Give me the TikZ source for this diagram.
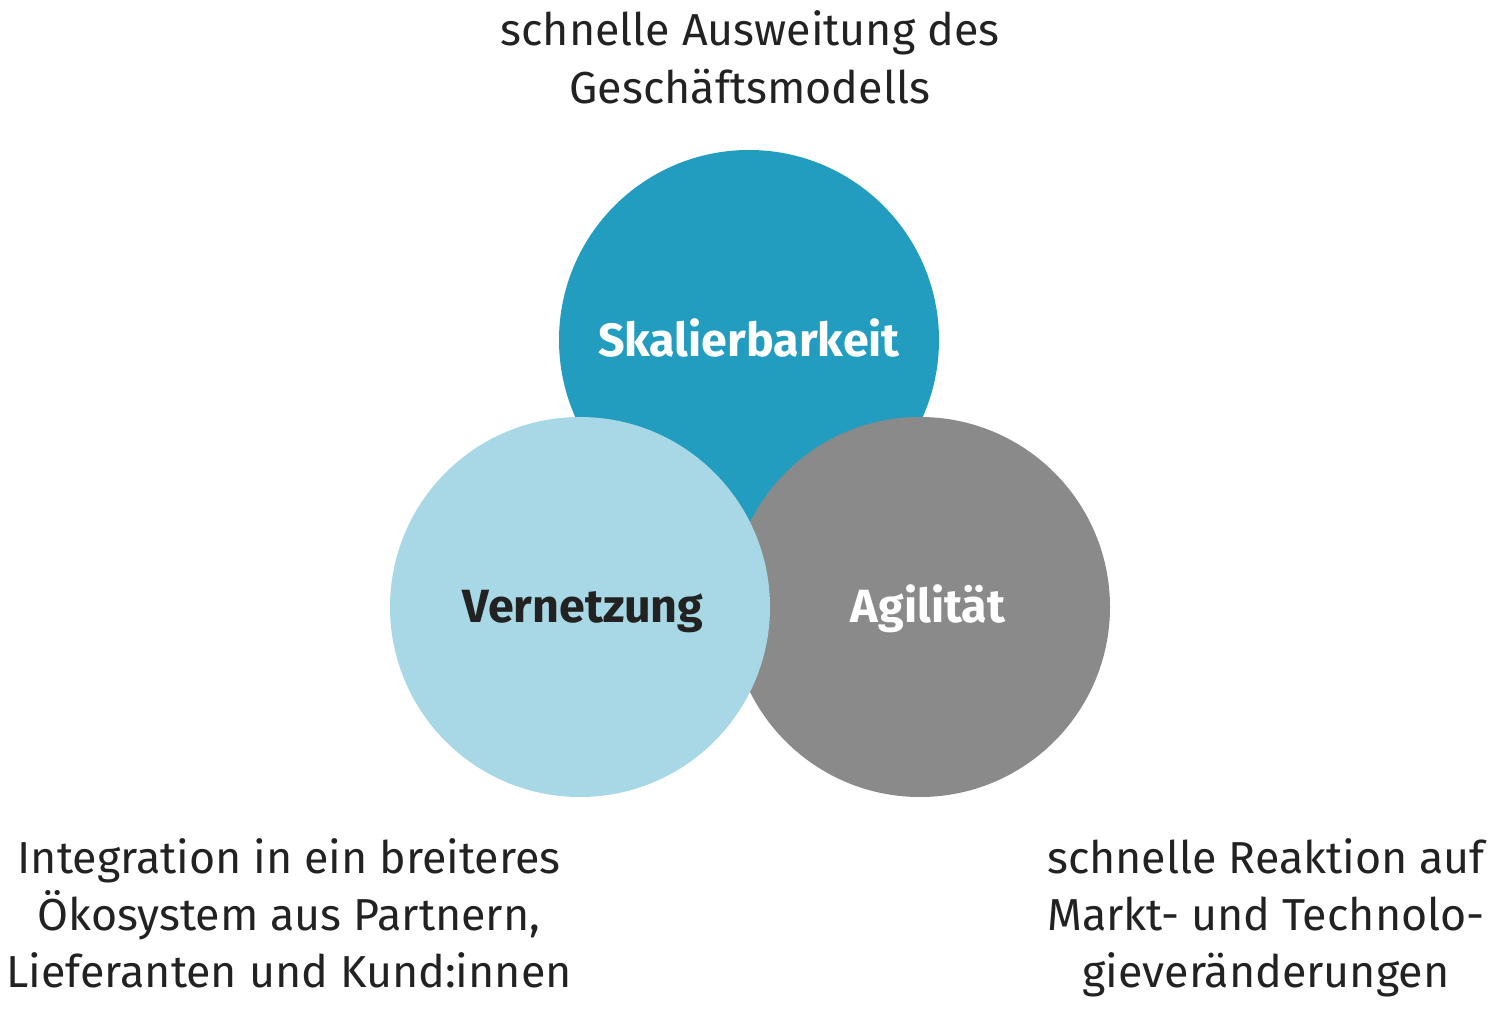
\documentclass[tikz,border=0pt]{standalone}
\usepackage{fontspec}
\setmainfont{Fira Sans}
\definecolor{teal1}{HTML}{229DBF}
\definecolor{light1}{HTML}{A8D8E6}
\definecolor{gray1}{HTML}{8A8A8A}
\definecolor{ink}{HTML}{222222}
\begin{document}
\begin{tikzpicture}[x=0.5pt,y=-0.5pt,
  bubble/.style={circle,minimum size=190pt,inner sep=0pt,draw=none},
  lbl/.style={font=\fontsize{23.3}{28.5}\selectfont\bfseries,anchor=base},
  desc/.style={font=\fontsize{22.4}{28.5}\selectfont,text=ink,align=center,anchor=base}]
\useasboundingbox (0,0) rectangle (1500,1012);
\node[bubble,fill=teal1] (sk) at (749,340) {};
\node[bubble,fill=gray1] (ag) at (920,607) {};
\node[bubble,fill=light1] (ve) at (580,607) {};
\node[lbl,text=white] (skl) at (749,356) {Skalierbarkeit};
\node[lbl,text=ink] (vel) at (583,622) {Vernetzung};
\node[lbl,text=white] (agl) at (928,622) {Agilität};
\node[desc] (top) at (750,103) {schnelle Ausweitung des\\Geschäftsmodells};
\node[desc] (left) at (289,987) {Integration in ein breiteres\\Ökosystem aus Partnern,\\Lieferanten und Kund:innen};
\node[desc] (right) at (1266,987) {schnelle Reaktion auf\\Markt- und Technolo-\\gieveränderungen};
\end{tikzpicture}
\end{document}
